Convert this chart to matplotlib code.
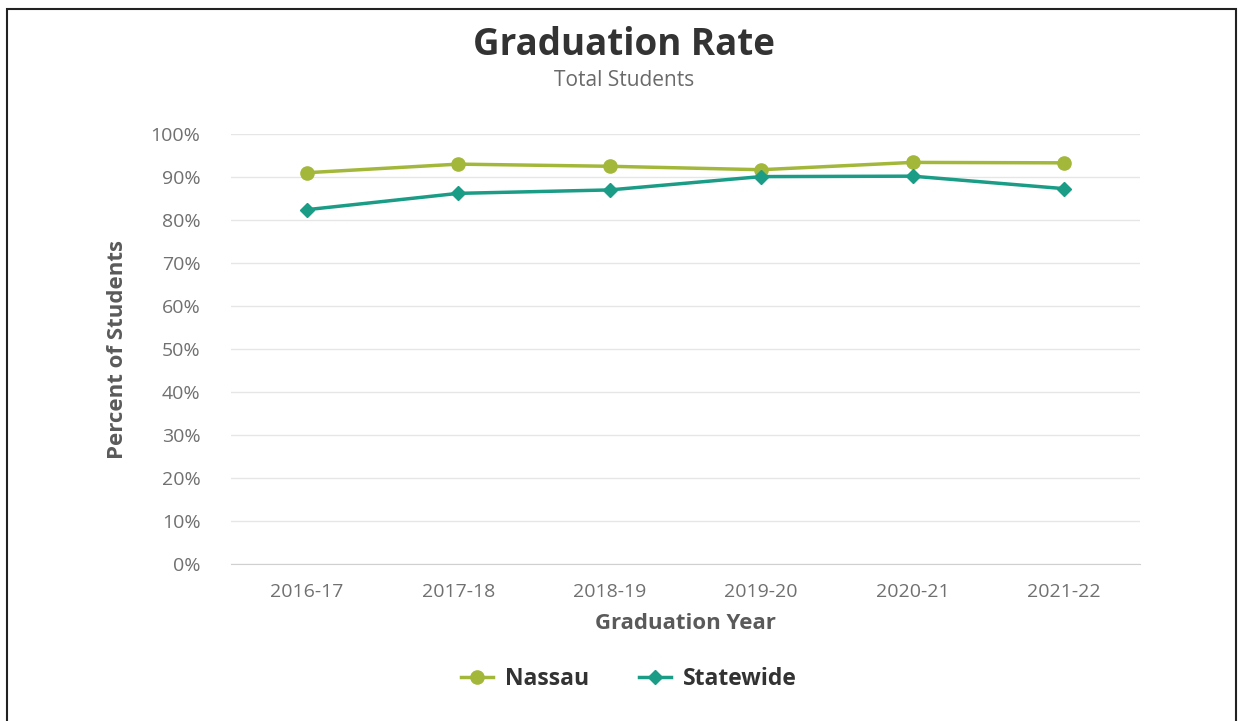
import matplotlib.pyplot as plt
from matplotlib.patches import Rectangle

plt.rcParams['font.family'] = ['Open Sans', 'DejaVu Sans']

years = ['2016-17', '2017-18', '2018-19', '2019-20', '2020-21', '2021-22']
nassau = [91, 93, 92.5, 91.7, 93.4, 93.3]
statewide = [82.4, 86.2, 87.0, 90.1, 90.2, 87.3]
yticks = list(range(0, 101, 10))

green = '#a3b83a'
teal = '#1a9c87'

fig = plt.figure(figsize=(12.38, 7.21), dpi=100)
fig.patches.append(Rectangle((0.0057, -0.01), 0.993, 0.998, transform=fig.transFigure,
                             fill=False, edgecolor='#222222', linewidth=1.5))

ax = fig.add_axes([0.1866, 0.2178, 0.734, 0.5963])
x = range(len(years))
ax.plot(x, nassau, color=green, lw=2.5, marker='o', ms=9.5, label='Nassau')
ax.plot(x, statewide, color=teal, lw=2.5, marker='D', ms=7, label='Statewide')

ax.set_xlim(-0.5, len(years) - 0.5)
ax.set_ylim(0, 100)
ax.set_yticks(yticks)
ax.set_yticklabels(['%d%%' % v for v in yticks])
ax.set_xticks(list(x))
ax.set_xticklabels(years)
ax.grid(axis='y', color='#e6e6e6', lw=1)
ax.set_axisbelow(True)
for s in ['top', 'right', 'left']:
    ax.spines[s].set_visible(False)
ax.spines['bottom'].set_color('#d0d0d0')
ax.tick_params(length=0, labelsize=14, colors='#707070')
ax.tick_params(axis='y', pad=22)
ax.tick_params(axis='x', pad=14)

ax.set_xlabel('Graduation Year', fontsize=16, fontweight='bold', color='#5a5a5a', labelpad=8)
ax.set_ylabel('Percent of Students', fontsize=16, fontweight='bold', color='#5a5a5a', labelpad=16)

fig.text(0.504, 0.938, 'Graduation Rate', ha='center', va='center',
         fontsize=26.5, fontweight='bold', color='#333333')
fig.text(0.504, 0.889, 'Total Students', ha='center', va='center',
         fontsize=15, color='#6a6a6a')

leg = fig.legend(loc='center', bbox_to_anchor=(0.508, 0.058), ncol=2, frameon=False,
                 fontsize=16.5, handlelength=1.4, columnspacing=2.2, handletextpad=0.5)
for t in leg.get_texts():
    t.set_fontweight('bold')
    t.set_color('#333333')

fig.savefig('out.png', dpi=100)
